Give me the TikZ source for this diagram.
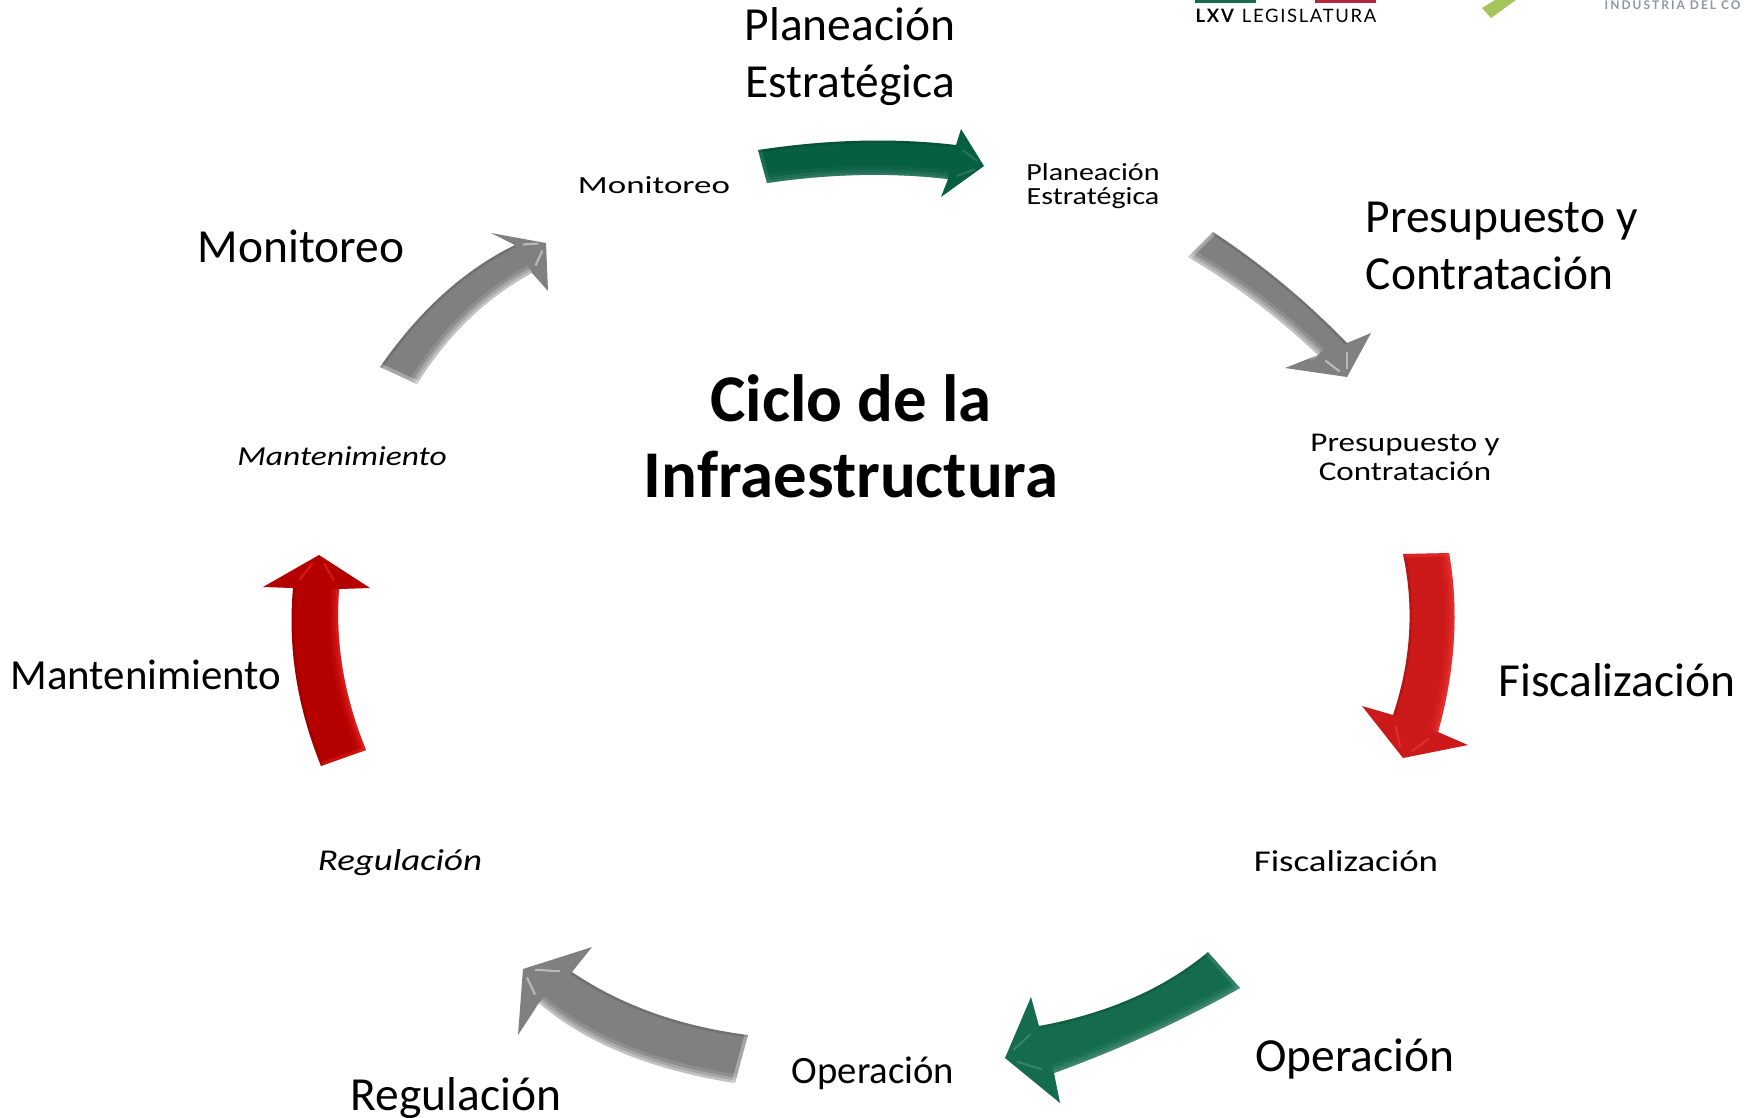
\documentclass[tikz,border=0pt]{standalone}
\usepackage{fontspec}
\usetikzlibrary{calc}
\setmainfont{Carlito}
\newfontfamily\widefont[FakeStretch=1.22]{Carlito}
\newfontfamily\widerfont[FakeStretch=1.42]{Carlito}
\newfontfamily\logofont[LetterSpace=9]{Lato}
\newfontfamily\logogrey[LetterSpace=17]{Lato}
\definecolor{arrowgreen}{HTML}{075F42}
\definecolor{arrowgreenb}{HTML}{146C4D}
\definecolor{arrowgrey}{HTML}{808080}
\definecolor{arrowred}{HTML}{CC1A1A}
\definecolor{arrowdark}{HTML}{B50000}
\definecolor{barred}{HTML}{B3273F}
\definecolor{logolime}{HTML}{A5C65A}
\definecolor{logogrey}{HTML}{8E96A3}
\tikzset{
	biglabel/.style={inner sep=0pt, align=center, font=\fontsize{13.5}{16.2}\selectfont},
	smalllabel/.style={inner sep=0pt, align=center, font=\widefont\fontsize{7}{7}\selectfont},
	monlabel/.style={inner sep=0pt, font=\widerfont\fontsize{7}{7}\selectfont},
	midlabel/.style={inner sep=0pt, align=center, font=\widefont\fontsize{7.7}{8.2}\selectfont},
	largelabel/.style={inner sep=0pt, font=\widefont\fontsize{8.6}{9}\selectfont},
	itlabel/.style={inner sep=0pt, font=\widefont\itshape\fontsize{7.8}{8}\selectfont},
	itlarge/.style={inner sep=0pt, font=\widefont\itshape\fontsize{8.6}{9}\selectfont},
	titlelabel/.style={inner sep=0pt, align=center, font=\bfseries\fontsize{19}{21.6}\selectfont},
}

\begin{document}
\begin{tikzpicture}[x=0.01cm, y=-0.01cm]

\clip (0,0) rectangle (1748,1117);
\useasboundingbox (0,0) rectangle (1748,1117);

% block arrows: colour, edge tone, then tail, curve, notch, barb, tip, barb, notch, curve, tail
\foreach \col/\hl/\ta/\cu/\nu/\bu/\tp/\bl/\nl/\cl/\tb in {
	arrowgreen/arrowgreen!70!white/{758,150}/{863,134}/{956,145}/{961,129}/{984,166}/{941,197}/{948,179}/{862,169}/{767,183},
	arrowgrey/white/{1213,232}/{1286,280}/{1347,343}/{1371,333}/{1347,377}/{1285,368}/{1318,355}/{1258,298}/{1188,257},
	arrowred/red!75!white/{1403,554}/{1420,634}/{1393,715}/{1362,706}/{1403,758}/{1468,745}/{1438,732}/{1464,638}/{1449,553},
	arrowgreenb/arrowgreenb!65!white/{1208,952}/{1142,1007}/{1039,1026}/{1031,997}/{1005,1058}/{1060,1103}/{1054,1073}/{1153,1037}/{1240,988},
	arrowgrey/white/{748,1035}/{646,1022}/{572,972}/{592,947}/{523,969}/{518,1035}/{539,1003}/{609,1063}/{735,1083},
	arrowdark/red!80!white/{321,766}/{285,677}/{293,588}/{263,587}/{319,555}/{370,588}/{339,589}/{333,670}/{366,750},
	arrowgrey/white/{380,367}/{439,282}/{515,245}/{491,233}/{546,243}/{548,291}/{532,273}/{463,310}/{417,384}}
{
	\def\arrowpath{(\ta) .. controls ($(\ta)!.667!(\cu)$) and ($(\nu)!.667!(\cu)$) .. (\nu) -- (\bu) -- (\tp) -- (\bl) -- (\nl) .. controls ($(\nl)!.667!(\cl)$) and ($(\tb)!.667!(\cl)$) .. (\tb) -- cycle}
	\begin{scope}
		\fill[\col] \arrowpath;
		\clip \arrowpath;
		\draw[\hl, opacity=.12, line width=5pt] (\nl) .. controls ($(\nl)!.667!(\cl)$) and ($(\tb)!.667!(\cl)$) .. (\tb);
		\draw[\hl, opacity=.22, line width=3pt] (\nl) .. controls ($(\nl)!.667!(\cl)$) and ($(\tb)!.667!(\cl)$) .. (\tb);
		\draw[\hl, opacity=.3, line width=1.4pt] (\nl) .. controls ($(\nl)!.667!(\cl)$) and ($(\tb)!.667!(\cl)$) .. (\tb);
		\draw[\hl, opacity=.3, line width=2pt] (\ta) -- (\tb);
		\draw[\hl, opacity=.45, line width=.6pt] ($(\nl)!.25!(\tp)$) -- ($(\nl)!.75!(\tp)$);
		\draw[\hl, opacity=.45, line width=.6pt] ($(\nu)!.25!(\tp)$) -- ($(\nu)!.75!(\tp)$);
		\draw[black, opacity=.12, line width=1.4pt] (\ta) .. controls ($(\ta)!.667!(\cu)$) and ($(\nu)!.667!(\cu)$) .. (\nu);
	\end{scope}
};

% texts round the cycle
\node[titlelabel] (title) at (851,436) {Ciclo de la\\Infraestructura};

\foreach \id/\x/\y/\txt in {bigplan/850/57/{Planeación\\Estratégica},
				bigmon/301/246/Monitoreo,
				bigfis/1617/680/Fiscalización,
				bigope/1355/1059/Operación,
				bigreg/456/1098/Regulación}
{
	\node[biglabel] (\id) at (\x,\y) {\txt};
};
\node[biglabel, font=\fontsize{12.2}{14}\selectfont] (bigman) at (146,675) {Mantenimiento};
\node[biglabel, align=left, anchor=west] (bigpre) at (1365,246) {Presupuesto y\\Contratación};

\foreach \id/\x/\y/\txt/\kind in {smon/654/185/Monitoreo/monlabel,
				splan/1093/186/{Planeación\\Estratégica}/smalllabel,
				spre/1405/457/{Presupuesto y\\Contratación}/midlabel,
				sman/342/456/Mantenimiento/itlabel,
				sreg/400/863/Regulación/itlarge,
				sfis/1346/861/Fiscalización/largelabel}
{
	\node[\kind] (\id) at (\x,\y) {\txt};
};
\node[inner sep=0pt, font=\fontsize{11}{12}\selectfont] (sope) at (873,1073) {Operación};

% cut logos in the corner
\fill[arrowgreenb] (1195,0) rectangle (1256,3);
\fill[barred] (1315,0) rectangle (1376,3);
\node[inner sep=0pt, anchor=base west, font=\logofont\fontsize{5.25}{6}\selectfont] (logotext) at (1195,22) {\textbf{LXV} LEGISLATURA};
\fill[logolime] (1482,8) -- (1491,18) -- (1516,0) -- (1495,0) -- cycle;
\node[inner sep=0pt, anchor=base west, text=logogrey, font=\logogrey\bfseries\fontsize{3.4}{4}\selectfont] (logoind) at (1604,9) {INDUSTRIA DEL CO};

\end{tikzpicture}
\end{document}
